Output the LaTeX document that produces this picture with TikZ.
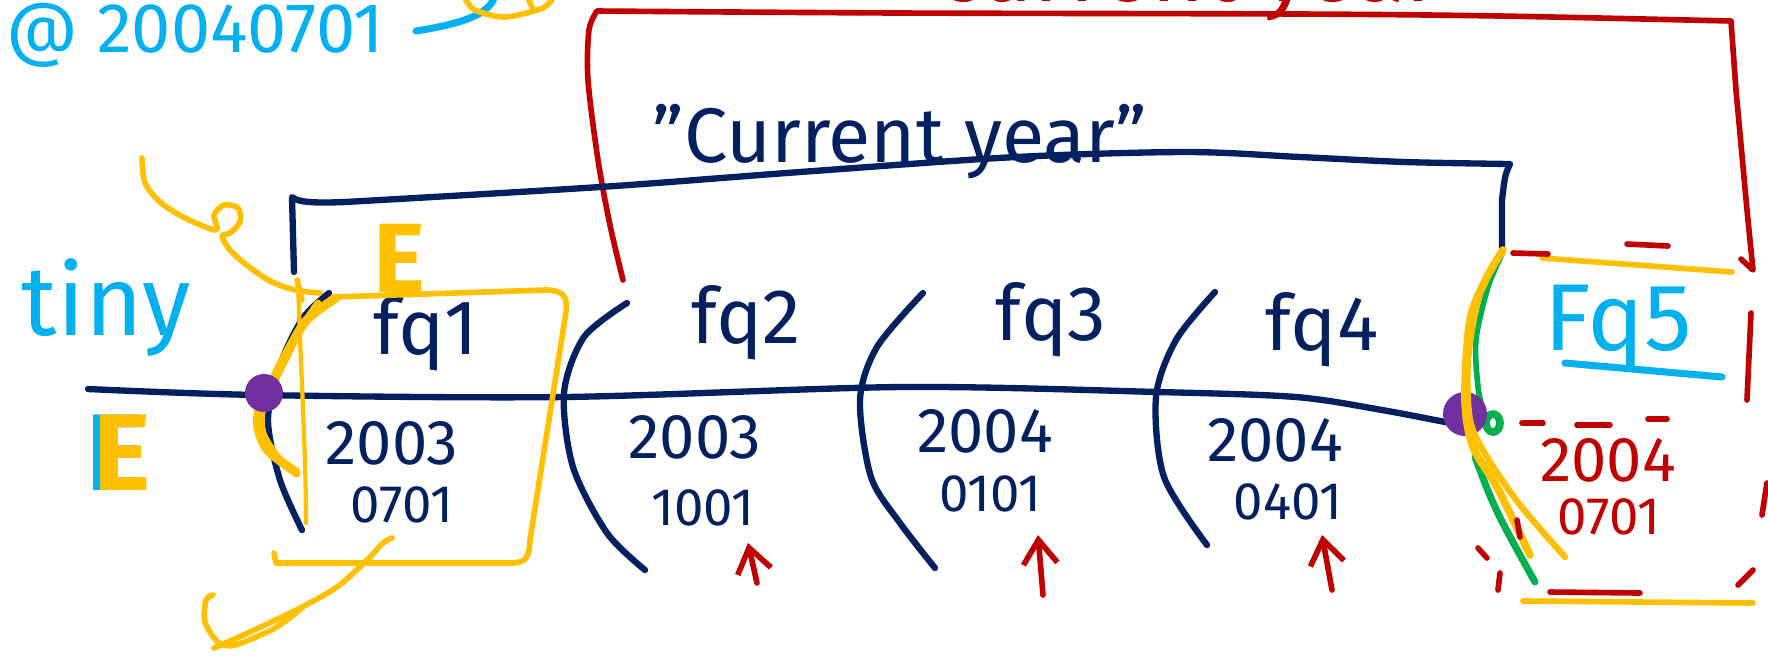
\documentclass[tikz,border=0pt]{standalone}
\usepackage{fontspec}
\setmainfont{Fira Sans}
\usetikzlibrary{arrows.meta}
\definecolor{inkNavy}{RGB}{0,32,96}
\definecolor{inkRed}{RGB}{192,0,0}
\definecolor{inkCyan}{RGB}{0,176,240}
\definecolor{inkYellow}{RGB}{255,192,0}
\definecolor{inkPurple}{RGB}{112,48,160}
\definecolor{inkGreen}{RGB}{0,176,80}

\begin{document}
\begin{tikzpicture}[x=0.01cm, y=-0.01cm,
  every node/.style={inner sep=0pt},
  pen/.style={line width=1.8pt, line cap=round, line join=round},
  navy/.style={pen, inkNavy},
  redpen/.style={pen, inkRed, line width=1.6pt},
  yel/.style={pen, inkYellow, line width=1.6pt},
  cyanpen/.style={pen, inkCyan, line width=2pt},
  greenpen/.style={pen, inkGreen, line width=1.6pt},
  qlabel/.style={inkNavy, font=\fontsize{22}{22}\selectfont, anchor=base},
  yr/.style={inkNavy, font=\fontsize{18}{18}\selectfont},
  md/.style={inkNavy, font=\fontsize{15}{15}\selectfont},
  bigE/.style={font=\bfseries\fontsize{28}{28}\selectfont, anchor=base west},
  dot/.style={circle, fill=inkPurple, minimum size=0.38cm},
  uparr/.style={redpen, -{Straight Barb[length=2.4mm, width=3.4mm]}}
]
  \fill[white] (0,0) rectangle (1768,656);
  \useasboundingbox (0,0) rectangle (1768,656);

  % red bracket and its (cut off) title
  \node[inkRed, font=\fontsize{26}{26}\selectfont, anchor=base west] (redTitle) at (937,1) {current year};
  \draw[redpen] plot[smooth] coordinates {(623,280) (610,225) (598,160) (588,80) (589,30) (597,11)}
    -- plot[smooth] coordinates {(597,11) (900,13) (1300,14) (1500,16) (1731,21)}
    -- (1736,90) -- (1747,210) -- (1753,270) -- (1741,259);

  % navy bracket
  \node[inkNavy, font=\fontsize{22}{22}\selectfont, anchor=base] (curYear) at (900,162) {"Current year"};
  \draw[navy] (294,272) -- (292,197) .. controls (298,203) and (320,203) .. (345,202)
    -- plot[smooth] coordinates {(345,202) (600,187) (800,172) (1016,157) (1187,152) (1300,157) (1405,162) (1510,164)}
    .. controls (1505,175) .. (1502,200) -- (1502,247);

  % timeline
  \draw[navy] plot[smooth] coordinates {(88,389) (259,395) (564,397) (902,387) (1158,392) (1296,397) (1382,410) (1450,423)};
  \draw[navy] plot[smooth] coordinates {(329,293) (303,318) (280,365) (268,420) (280,480) (302,530)};
  \draw[navy] plot[smooth] coordinates {(627,303) (584,337) (564,393) (573,467) (607,533) (645,570)};
  \draw[navy] plot[smooth] coordinates {(923,293) (877,347) (860,400) (871,477) (900,523) (935,568)};
  \draw[navy] plot[smooth] coordinates {(1215,292) (1176,340) (1156,397) (1164,477) (1207,545)};

  % quarters
  \node[qlabel] (fq1) at (426,354) {fq1};
  \node[qlabel] (fq2) at (746,343) {fq2};
  \node[qlabel] (fq3) at (1051,340) {fq3};
  \node[qlabel] (fq4) at (1322,350) {fq4};
  \node[qlabel, inkCyan, font=\fontsize{27}{27}\selectfont] (fq5) at (1618,350) {Fq5};
  \draw[cyanpen] (1565,363) -- (1722,377);

  \node[yr] (y1) at (392,443) {2003};
  \node[md] (m1) at (402,505) {0701};
  \node[yr] (y2) at (695,437) {2003};
  \node[md] (m2) at (703,508) {1001};
  \node[yr] (y3) at (985,431) {2004};
  \node[md] (m3) at (990,494) {0101};
  \node[yr] (y4) at (1275,440) {2004};
  \node[md] (m4) at (1288,502) {0401};
  \node[yr, inkRed] (y5) at (1608,460) {2004};
  \node[md, inkRed] (m5) at (1609,517) {0701};

  \coordinate (r2) at (757,583);  \coordinate (r2t) at (748,543);
  \coordinate (r3) at (1043,595); \coordinate (r3t) at (1038,535);
  \coordinate (r4) at (1332,590); \coordinate (r4t) at (1322,535);
  \draw[uparr] (r2) -- (r2t);
  \draw[uparr] (r3) -- (r3t);
  \draw[uparr] (r4) -- (r4t);

  % cyan notes
  \node[inkCyan, font=\fontsize{20}{20}\selectfont, anchor=base west] (asOf) at (6,52) {@ 20040701};
  \coordinate (asOfTail) at (416,31);
  \draw[cyanpen] (asOfTail) .. controls (460,24) and (488,15) .. (494,-2);
  \node[inkCyan, font=\fontsize{28}{28}\selectfont, anchor=base west] (tiny) at (21,335) {tiny};
  \node[bigE, inkCyan, font=\bfseries\fontsize{31}{31}\selectfont] (eCyan) at (86,490) {E};
  \node[bigE, inkYellow, font=\bfseries\fontsize{31}{31}\selectfont] (eLeft) at (93,490) {E};
  \node[bigE, inkYellow] (eTop) at (373,292) {E};

  % yellow marks round fq1
  \draw[yel] plot[smooth] coordinates {(465,-2) (475,10) (505,17) (543,8) (553,-3)};
  \draw[yel] (528,-2) -- (532,7);
  \draw[yel] plot[smooth] coordinates {(142,158) (145,183) (160,202) (185,218) (216,230) (214,215) (224,205) (238,208) (240,222) (230,233) (222,236) (230,250) (248,266) (270,281) (295,290) (320,293)};
  \draw[yel] (297,280) -- (302,300);
  \draw[yel] (274,553) -- (276,563) -- (510,563) .. controls (527,563) and (529,557) .. (530,540)
    -- (566,312) .. controls (568,295) and (562,290) .. (545,290) -- (333,297);
  \draw[yel, line width=1.2pt] (298,280) .. controls (301,380) and (306,450) .. (306,523);
  \draw[yel, line width=2.6pt] plot[smooth] coordinates {(336,298) (305,322) (280,368) (258,415) (266,448) (296,472)};
  \draw[yel, line width=2pt] plot[smooth] coordinates {(318,303) (290,345) (266,395) (262,430) (280,460) (297,474)};
  \draw[yel] plot[smooth] coordinates {(392,538) (383,543) (367,560) (337,587) (300,608) (250,632) (214,648)};
  \draw[yel] plot[smooth] coordinates {(303,607) (275,628) (235,645) (218,642) (205,622) (206,600) (213,595)};

  % right edge at fq5
  \draw[greenpen] plot[smooth] coordinates {(1503,252) (1488,287) (1476,340) (1478,387) (1483,410)};
  \draw[greenpen, line width=2.2pt] (1493,423) ellipse (0.07cm and 0.09cm);
  \draw[greenpen, line width=2pt] (1475,457) .. controls (1495,510) .. (1535,582);
  \node[dot] (pL) at (264,393) {};
  \node[dot, minimum size=0.44cm] (pR) at (1465,414) {};
  \draw[yel, line width=2.2pt] plot[smooth] coordinates {(1503,250) (1487,277) (1470,320) (1465,400) (1473,447) (1497,487) (1530,555)};
  \draw[yel, line width=1.8pt] plot[smooth] coordinates {(1495,262) (1478,300) (1468,360) (1470,420) (1487,457) (1520,505) (1565,557)};

  \draw[yel] (1542,258) -- (1732,272);
  \draw[yel] (1523,601) -- (1753,603);
  \draw[redpen] (1513,253) -- (1548,254);
  \draw[redpen] (1627,244) -- (1668,246);
  \draw[redpen] (1751,313) -- (1747,400);
  \draw[redpen] (1522,423) -- (1543,423);
  \draw[redpen] (1577,425) -- (1610,425);
  \draw[redpen] (1648,419) -- (1667,419);
  \draw[redpen] (1767,483) -- (1762,515);
  \draw[redpen] (1753,570) -- (1738,585);
  \draw[redpen] (1550,592) -- (1640,593);
  \draw[redpen] (1478,548) -- (1487,558);
  \draw[redpen] (1500,573) -- (1498,590);
  \draw[redpen] (1517,520) -- (1520,537);
\end{tikzpicture}
\end{document}
